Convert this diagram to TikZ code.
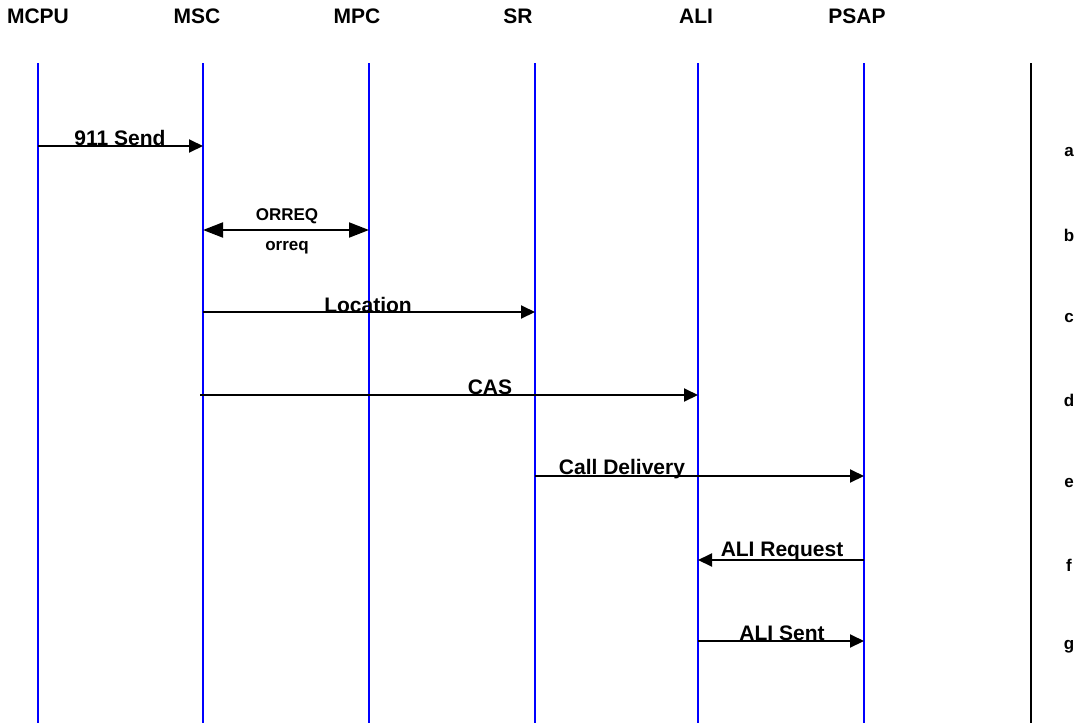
\documentclass[tikz,border=0pt]{standalone}
\usepackage{fontspec}
\setmainfont{Liberation Sans}
\usetikzlibrary{arrows.meta}
\begin{document}
\begin{tikzpicture}[x=0.5pt,y=-0.5pt,
  lifeline/.style={blue,line width=1pt},
  sepline/.style={black,line width=1pt},
  msg/.style={black,line width=1pt,-{Triangle[length=7pt,width=6.5pt]}},
  dmsg/.style={black,line width=1pt,{Triangle[length=10pt,width=7.5pt]}-{Triangle[length=10pt,width=7.5pt]}},
  head/.style={font=\fontsize{10.5}{12}\selectfont\bfseries,inner sep=0pt},
  lbl/.style={font=\fontsize{10.5}{12}\selectfont\bfseries,inner sep=0pt},
  slbl/.style={font=\fontsize{8.5}{10}\selectfont\bfseries,inner sep=0pt},
  row/.style={font=\fontsize{8.5}{10}\selectfont\bfseries,inner sep=0pt}]
\useasboundingbox (0,0) rectangle (1077,723);
% headers
\node[head] (hMCPU) at (38,16) {MCPU};
\node[head] (hMSC) at (197,16) {MSC};
\node[head] (hMPC) at (357,16) {MPC};
\node[head] (hSR) at (518,16) {SR};
\node[head] (hALI) at (696,16) {ALI};
\node[head] (hPSAP) at (857,16) {PSAP};
% lifeline ends
\foreach \n/\x in {MCPU/38,MSC/203,MPC/369,SR/535,ALI/698,PSAP/864}{
  \coordinate (\n-t) at (\x,63);
  \coordinate (\n-b) at (\x,723);
  \draw[lifeline] (\n-t) -- (\n-b);
}
\coordinate (sep-t) at (1031,63);
\coordinate (sep-b) at (1031,723);
\draw[sepline] (sep-t) -- (sep-b);
% message end points
\coordinate (a1) at (38,146);  \coordinate (a2) at (203,146);
\coordinate (b1) at (203,230); \coordinate (b2) at (369,230);
\coordinate (c1) at (203,312); \coordinate (c2) at (535,312);
\coordinate (d1) at (200,395); \coordinate (d2) at (698,395);
\coordinate (e1) at (535,476); \coordinate (e2) at (864,476);
\coordinate (f1) at (864,560); \coordinate (f2) at (698,560);
\coordinate (g1) at (698,641); \coordinate (g2) at (864,641);
\draw[msg] (a1) -- (a2);
\draw[dmsg] (b1) -- (b2);
\draw[msg] (c1) -- (c2);
\draw[msg] (d1) -- (d2);
\draw[msg] (e1) -- (e2);
\draw[msg] (f1) -- (f2);
\draw[msg] (g1) -- (g2);
% labels
\node[lbl] (la) at (120,138) {911 Send};
\node[slbl] (lb1) at (287,216) {ORREQ};
\node[slbl] (lb2) at (287,248) {orreq};
\node[lbl] (lc) at (368,305) {Location};
\node[lbl] (ld) at (490,387) {CAS};
\node[lbl] (le) at (622,469) {Call Delivery};
\node[lbl] (lf) at (782,551) {ALI Request};
\node[lbl] (lg) at (782,633) {ALI Sent};
% row letters
\foreach \r/\y in {a/152,b/235,c/318,d/400,e/483,f/565,g/647}{
  \node[row] (r\r) at (1069,\y) {\r};
}
\end{tikzpicture}
\end{document}
